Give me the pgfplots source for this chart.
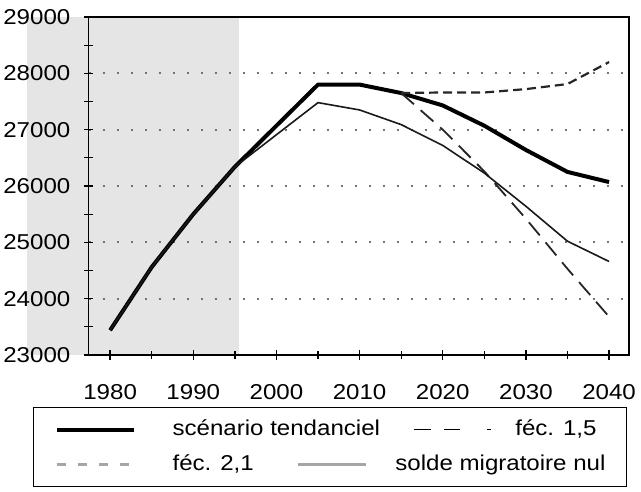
\documentclass[border=0pt]{standalone}
\usepackage{fontspec}
\setmainfont{Liberation Sans}[FakeStretch=1.12]
\usepackage{pgfplots}
\pgfplotsset{compat=1.18}

\begin{document}
\begin{tikzpicture}
\begin{axis}[
  set layers,
  scale only axis,
  width=540.5bp, height=338bp,
  at={(0,0)}, anchor=south west,
  xmin=1977.4, xmax=2042.4,
  ymin=23000, ymax=29000,
  scaled y ticks=false,
  xtick={1980,1990,...,2040},
  minor xtick={1985,1995,...,2035},
  ytick={23000,24000,...,29000},
  minor ytick={23500,24500,...,28500},
  xtick pos=lower, ytick pos=left,
  tick align=center,
  major tick length=9bp, minor tick length=8bp,
  tick style={black, line width=1.3bp},
  axis line style={line width=1.8bp},
  ymajorgrids,
  grid style={black!55, line width=2.2bp, dash pattern=on 2.2bp off 11.8bp},
  /pgf/number format/assume math mode=true,
  /pgf/number format/1000 sep={},
  tick label style={font=\fontsize{21.5bp}{25bp}\selectfont},
  yticklabel style={anchor=east, inner sep=0pt, xshift=-13.5bp},
  xticklabel style={anchor=north, inner sep=0pt, yshift=-25bp},
  legend columns=2,
  legend cell align=left,
  legend style={
    at={(-0.1027,-0.1538)}, anchor=north west,
    draw=black, line width=1.2bp,
    font=\fontsize{21.5bp}{25bp}\selectfont,
    inner xsep=21bp, inner ysep=12bp,
    row sep=15bp,
    nodes={inner sep=0pt, text height=15.5bp, text depth=4.5bp},
    /tikz/column 1/.style={column sep=37bp},
    /tikz/column 2/.style={column sep=33bp},
    /tikz/column 3/.style={column sep=24bp},
  },
]
% période observée
\addplot[fill=gray!20, draw=none, forget plot, on layer=axis background]
  coordinates {(1970,29000) (1995.5,29000)} \closedcycle;

\addplot[black, line width=4bp, line join=round,
  legend image code/.code={\draw[black, line width=4bp] (0bp,0bp) -- (77bp,0bp);}]
  coordinates {(1980,23440) (1985,24560) (1990,25500) (1995,26340) (2000,27070)
    (2005,27800) (2010,27800) (2015,27650) (2020,27430) (2025,27070)
    (2030,26640) (2035,26250) (2040,26070)};
\addlegendentry{scénario tendanciel}

\addplot[black!85, line width=1.8bp, dash pattern=on 17bp off 9bp,
  legend image code/.code={\draw[black, line width=1.3bp]
    (0bp,0bp) -- (17bp,0bp) (30bp,0bp) -- (46bp,0bp) (73bp,0bp) -- (77bp,0bp);}]
  coordinates {(2015,27650) (2020,27000) (2025,26260) (2030,25420)
    (2035,24530) (2040,23680)};
\addlegendentry{féc. 1,5}

\addplot[black!85, line width=2.2bp, dash pattern=on 9bp off 5bp,
  legend image code/.code={\draw[gray!70, line width=3bp, dash pattern=on 9bp off 12bp]
    (0bp,0bp) -- (77bp,0bp);}]
  coordinates {(2015,27650) (2020,27660) (2025,27660) (2030,27720)
    (2035,27810) (2040,28200)};
\addlegendentry{féc. 2,1}

\addplot[black!90, line width=1.6bp,
  legend image code/.code={\draw[overlay, gray!70, line width=3.5bp]
    (-116bp,0bp) -- (-48bp,0bp);}]
  coordinates {(1980,23440) (1985,24560) (1990,25500) (1995,26340) (2000,26910)
    (2005,27480) (2010,27350) (2015,27090) (2020,26720) (2025,26230)
    (2030,25640) (2035,25020) (2040,24660)};
\addlegendentry{\hspace*{-120bp}solde migratoire nul}
\end{axis}
\pgfresetboundingbox
\useasboundingbox (-88.5bp,-137bp) rectangle (552.5bp,355bp);
\end{tikzpicture}
\end{document}
